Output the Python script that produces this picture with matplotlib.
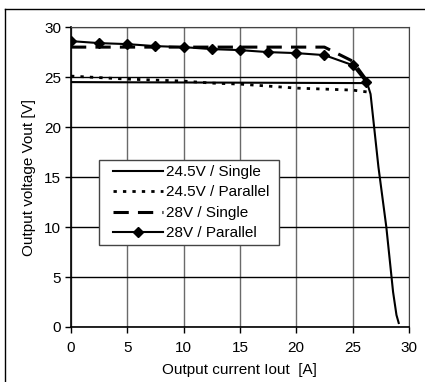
import matplotlib
matplotlib.use('Agg')
import matplotlib.pyplot as plt
from matplotlib.lines import Line2D
from matplotlib.patches import Rectangle

plt.rcParams['font.family'] = ['Liberation Sans', 'DejaVu Sans']
plt.rcParams['font.size'] = 11

# current [A] / voltage [V]
x_single_245 = [0, 26.3, 26.6, 27.3, 28.0, 28.6, 28.9, 29.1]
y_single_245 = [24.5, 24.4, 23.3, 16.0, 10.0, 3.5, 1.2, 0.4]

x_par_245 = [0, 5, 10, 12.5, 15, 17.5, 20, 22.5, 25, 26.4]
y_par_245 = [25.1, 24.8, 24.6, 24.4, 24.3, 24.1, 23.9, 23.8, 23.7, 23.5]

x_single_28 = [0, 22.5, 25.0, 26.3]
y_single_28 = [28.0, 28.0, 26.6, 24.6]

x_par_28 = [0, 2.5, 5, 7.5, 10, 12.5, 15, 17.5, 20, 22.5, 25, 26.2]
y_par_28 = [28.6, 28.4, 28.3, 28.1, 28.0, 27.8, 27.7, 27.5, 27.4, 27.2, 26.2, 24.5]

labels = ['24.5V / Single', '24.5V / Parallel', '28V / Single', '28V / Parallel']

fig = plt.figure(figsize=(4.25, 3.82), dpi=100)
ax = fig.add_axes([0.167, 0.144, 0.795, 0.785])

ax.plot(x_single_245, y_single_245, color='black', lw=1.5, label=labels[0])
ax.plot(x_par_245, y_par_245, color='black', lw=2, linestyle=(0, (1.2, 2.2)), label=labels[1])
ax.plot(x_single_28, y_single_28, color='black', lw=2.2, linestyle=(0, (5, 3)), label=labels[2])
ax.plot(x_par_28, y_par_28, color='black', lw=1.5, marker='D', markersize=5, label=labels[3])

ax.set_xlim(0, 30)
ax.set_ylim(0, 30)
ax.set_xticks(range(0, 31, 5))
ax.set_yticks(range(0, 31, 5))
ax.xaxis.grid(True, color='#6a6a6a', lw=1)
ax.yaxis.grid(True, color='black', lw=1)
ax.set_axisbelow(True)
ax.tick_params(direction='out', length=4, width=1, labelsize=11)
ax.tick_params(axis='x', pad=6)
ax.tick_params(axis='y', pad=3)
for side in ['top', 'right']:
    ax.spines[side].set_color('#444444')
for side in ['left', 'bottom']:
    ax.spines[side].set_linewidth(1.2)

ax.set_xlabel('Output current Iout  [A]', fontsize=11, labelpad=6)
ax.set_ylabel('Output voltage Vout [V]', fontsize=11, labelpad=6)

# legend box drawn separately so the side padding can be wider than the top
ax.add_patch(Rectangle((2.5, 8.2), 16.0, 8.5, facecolor='white', edgecolor='#444444',
                       lw=1, zorder=4))
leg = ax.legend(loc='upper left', bbox_to_anchor=(0.124, 0.54), frameon=False,
                handlelength=3.3, handletextpad=0.2, borderpad=0,
                borderaxespad=0, labelspacing=0.42, fontsize=11)
leg.set_zorder(5)

# outer frame of the figure (only top and left edges visible)
fig.add_artist(Line2D([5 / 425, 1], [1 - 9 / 382, 1 - 9 / 382], color='black', lw=1,
                      transform=fig.transFigure))
fig.add_artist(Line2D([5 / 425, 5 / 425], [0, 1 - 9 / 382], color='black', lw=1,
                      transform=fig.transFigure))

fig.savefig('out.png', dpi=100)
